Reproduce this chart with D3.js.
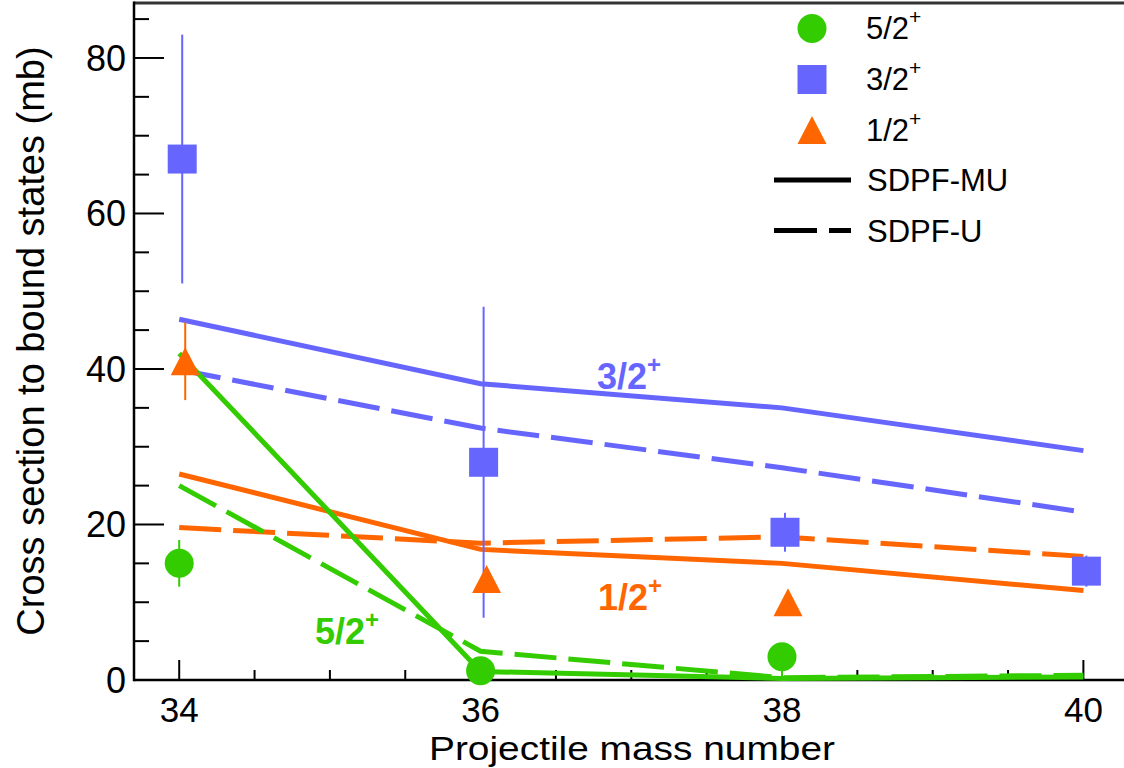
<!DOCTYPE html>
<html>
<head>
<meta charset="utf-8">
<script src="https://cdn.jsdelivr.net/npm/d3@7"></script>
<style>
  html, body { margin: 0; padding: 0; background: #fff; }
  svg { display: block; font-family: "Liberation Sans", Arial, Helvetica, sans-serif; }
</style>
</head>
<body>
<svg id="chart" width="1124" height="768"></svg>
<script>
// Projectile mass numbers
const massTheory = [34, 36, 38, 40];

// Shell-model predictions (mb)
const sdpfmu52 = [42.0, 1.1, 0.2, 0.4];
const sdpfu52  = [25.0, 3.7, 0.3, 0.6];
const sdpfmu32 = [46.4, 38.1, 35.0, 29.5];
const sdpfu32  = [39.9, 32.4, 27.3, 21.6];
const sdpfmu12 = [26.5, 16.8, 15.0, 11.5];
const sdpfu12  = [19.6, 17.6, 18.4, 15.9];

// Measured cross sections (mb) with lower / upper uncertainties
const mass52 = [34, 36, 38];
const exp52 = [15.0, 1.2, 3.0];
const err52lo = [3.0, 0, 2.6];
const err52hi = [3.0, 0, 1.5];

const mass32 = [34, 36, 38, 40];
const exp32 = [67.0, 28.0, 19.0, 14.0];
const err32lo = [16.0, 20.0, 2.5, 2.0];
const err32hi = [16.0, 20.0, 2.5, 2.0];

const mass12 = [34, 36, 38];
const exp12 = [41.0, 13.0, 10.0];
const err12lo = [5.0, 0, 0];
const err12hi = [5.0, 0, 0];

// Axis ticks
const xMajor = [34, 36, 38, 40];
const xMinor = [34.5, 35, 35.5, 36.5, 37, 37.5, 38.5, 39, 39.5];
const yMajor = [0, 20, 40, 60, 80];
const yMinor = [5, 10, 15, 25, 30, 35, 45, 50, 55, 65, 70, 75, 85];

const GREEN = "#33cc00", BLUE = "#6666ff", ORANGE = "#ff6600";

const svg = d3.select("#chart");
const plotL = 134, plotR = 1128.6, plotT = 3, plotB = 680;

const x = d3.scaleLinear().domain([33.7, 40.3]).range([plotL, plotR]);
const y = d3.scaleLinear().domain([0, 87.07]).range([plotB, plotT]);

// ---- axes frame ----
svg.append("line").attr("x1", plotL).attr("x2", 1124).attr("y1", plotT).attr("y2", plotT)
  .attr("stroke", "#333").attr("stroke-width", 3);
svg.append("line").attr("x1", plotL).attr("x2", plotL).attr("y1", plotT - 1.5).attr("y2", plotB + 1.2)
  .attr("stroke", "#000").attr("stroke-width", 2.5);
svg.append("line").attr("x1", plotL).attr("x2", 1124).attr("y1", plotB).attr("y2", plotB)
  .attr("stroke", "#000").attr("stroke-width", 2.5);

// y ticks (pointing inward)
const gy = svg.append("g");
gy.selectAll(".ymaj").data(yMajor).join("line")
  .attr("x1", plotL).attr("x2", plotL + 30).attr("y1", d => y(d)).attr("y2", d => y(d))
  .attr("stroke", "#000").attr("stroke-width", 2);
gy.selectAll(".ymin").data(yMinor).join("line")
  .attr("x1", plotL).attr("x2", plotL + 15).attr("y1", d => y(d)).attr("y2", d => y(d))
  .attr("stroke", "#000").attr("stroke-width", 2);
gy.selectAll("text").data(yMajor).join("text")
  .attr("x", plotL - 8).attr("y", d => y(d)).attr("dy", "0.36em")
  .attr("text-anchor", "end").attr("font-size", 36).text(d => d);

// x ticks (pointing inward)
const gx = svg.append("g");
gx.selectAll(".xmaj").data(xMajor).join("line")
  .attr("x1", d => x(d)).attr("x2", d => x(d)).attr("y1", plotB).attr("y2", plotB - 20)
  .attr("stroke", "#000").attr("stroke-width", 2);
gx.selectAll(".xmin").data(xMinor).join("line")
  .attr("x1", d => x(d)).attr("x2", d => x(d)).attr("y1", plotB).attr("y2", plotB - 10)
  .attr("stroke", "#000").attr("stroke-width", 2);
gx.selectAll("text").data(xMajor).join("text")
  .attr("x", d => x(d)).attr("y", 722)
  .attr("text-anchor", "middle").attr("font-size", 35).text(d => d);

// axis titles
svg.append("text").attr("x", 632).attr("y", 760).attr("text-anchor", "middle")
  .attr("font-size", 34).attr("textLength", 406).attr("lengthAdjust", "spacingAndGlyphs")
  .text("Projectile mass number");
svg.append("text").attr("transform", "translate(44,341) rotate(-90)")
  .attr("text-anchor", "middle").attr("font-size", 38)
  .text("Cross section to bound states (mb)");

// ---- theory curves ----
const line = d3.line().x(d => x(d[0])).y(d => y(d[1]));
const curves = [
  { v: sdpfmu32, c: BLUE, dash: null },
  { v: sdpfu32, c: BLUE, dash: "42,12" },
  { v: sdpfmu12, c: ORANGE, dash: null },
  { v: sdpfu12, c: ORANGE, dash: "42,12" },
  { v: sdpfmu52, c: GREEN, dash: null },
  { v: sdpfu52, c: GREEN, dash: "42,12" }
];
svg.append("g").selectAll("path").data(curves).join("path")
  .attr("d", d => line(massTheory.map((m, i) => [m, d.v[i]])))
  .attr("fill", "none").attr("stroke", d => d.c).attr("stroke-width", 5)
  .attr("stroke-dasharray", d => d.dash);

// ---- measurements ----
function points(mass, vals, lo, hi) {
  return mass.map((m, i) => ({ m, v: vals[i], lo: vals[i] - lo[i], hi: vals[i] + hi[i] }));
}
const sets = [
  { pts: points(mass52, exp52, err52lo, err52hi), c: GREEN, shape: "circle", dx: 0 },
  { pts: points(mass32, exp32, err32lo, err32hi), c: BLUE, shape: "square", dx: 3 },
  { pts: points(mass12, exp12, err12lo, err12hi), c: ORANGE, shape: "triangle", dx: 6 }
];

function drawMarker(g, shape, cx, cy, c) {
  if (shape === "circle") {
    g.append("circle").attr("cx", cx).attr("cy", cy).attr("r", 14.5).attr("fill", c);
  } else if (shape === "square") {
    g.append("rect").attr("x", cx - 14.5).attr("y", cy - 14.5).attr("width", 29).attr("height", 29).attr("fill", c);
  } else {
    g.append("path").attr("d", `M${cx},${cy - 14}L${cx + 14.5},${cy + 14}L${cx - 14.5},${cy + 14}Z`).attr("fill", c);
  }
}

sets.forEach(s => {
  const g = svg.append("g");
  s.pts.forEach(p => {
    const cx = x(p.m) + s.dx;
    if (p.hi > p.lo) {
      g.append("line").attr("x1", cx).attr("x2", cx).attr("y1", y(p.lo)).attr("y2", y(p.hi))
        .attr("stroke", s.c).attr("stroke-width", 2);
    }
  });
  s.pts.forEach(p => drawMarker(g, s.shape, x(p.m) + s.dx, y(p.v), s.c));
});

// ---- in-plot labels ----
function jLabel(g, tx, ty, num, color, size, supSize) {
  const t = g.append("text").attr("x", tx).attr("y", ty).attr("fill", color)
    .attr("font-size", size).attr("font-weight", "bold");
  t.append("tspan").text(num);
  t.append("tspan").attr("font-size", supSize).attr("dy", -16).text("+");
}
const lab = svg.append("g");
jLabel(lab, 597, 389, "3/2", BLUE, 36, 24);
jLabel(lab, 598, 610, "1/2", ORANGE, 36, 24);
jLabel(lab, 315, 644, "5/2", GREEN, 36, 24);

// ---- legend ----
const leg = svg.append("g");
const legItems = [
  { shape: "circle", c: GREEN, label: "5/2", cy: 28.5 },
  { shape: "square", c: BLUE, label: "3/2", cy: 79.5 },
  { shape: "triangle", c: ORANGE, label: "1/2", cy: 130 }
];
legItems.forEach(it => {
  drawMarker(leg, it.shape, 812, it.cy, it.c);
  const t = leg.append("text").attr("x", 866).attr("y", it.cy + 10.5).attr("font-size", 31);
  t.append("tspan").text(it.label);
  t.append("tspan").attr("font-size", 21).attr("dy", -15).text("+");
});
const legLines = [
  { label: "SDPF-MU", dash: null, cy: 180 },
  { label: "SDPF-U", dash: "43,12", cy: 230.5 }
];
legLines.forEach(it => {
  leg.append("line").attr("x1", 774).attr("x2", 851).attr("y1", it.cy).attr("y2", it.cy)
    .attr("stroke", "#000").attr("stroke-width", 5).attr("stroke-dasharray", it.dash);
  leg.append("text").attr("x", 867).attr("y", it.cy + 11).attr("font-size", 31).text(it.label);
});
</script>
</body>
</html>
